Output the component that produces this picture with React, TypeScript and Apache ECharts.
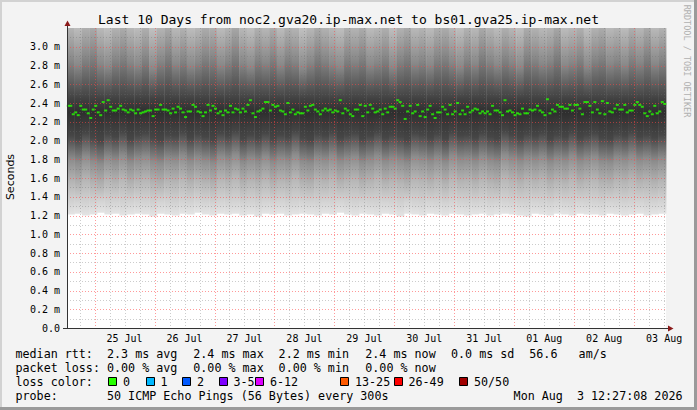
import React, { useEffect, useRef } from "react";
import * as echarts from "echarts";

// time axis in hours after 24 Jul 00:00
const X_START = 12.95;
const X_END = 252.75;
const Y_MAX = 3.2;

const titleText = "Last 10 Days from noc2.gva20.ip-max.net to bs01.gva25.ip-max.net";
const dayLabels = ["25 Jul", "26 Jul", "27 Jul", "28 Jul", "29 Jul", "30 Jul", "31 Jul", "01 Aug", "02 Aug", "03 Aug"];
const dayLabelHours = [36, 60, 84, 108, 132, 156, 180, 204, 228, 252];
const midnightHours = [24, 48, 72, 96, 120, 144, 168, 192, 216, 240];
const sixHourHours = [18, 30, 36, 42, 54, 60, 66, 78, 84, 90, 102, 108, 114, 126, 132, 138, 150, 156, 162, 174, 180, 186, 198, 204, 210, 222, 228, 234, 246, 252];
const yMajor = [0.2, 0.4, 0.6, 0.8, 1.0, 1.2, 1.4, 1.6, 1.8, 2.0, 2.2, 2.4, 2.6, 2.8, 3.0];
const yMinor = [0.1, 0.3, 0.5, 0.7, 0.9, 1.1, 1.3, 1.5, 1.7, 1.9, 2.1, 2.3, 2.5, 2.7, 2.9, 3.1];

// median rtt (ms), one per hour
const medianRtt = [
  2.37, 2.37, 2.28, 2.30, 2.27, 2.37, 2.33, 2.33, 2.29, 2.24, 2.33, 2.37, 2.30, 2.27, 2.41, 2.32, 2.43, 2.36, 2.32, 2.32,
  2.34, 2.37, 2.33, 2.32, 2.30, 2.33, 2.32, 2.29, 2.33, 2.29, 2.30, 2.31, 2.32, 2.32, 2.26, 2.33, 2.33, 2.38, 2.33, 2.33,
  2.32, 2.29, 2.34, 2.30, 2.36, 2.34, 2.30, 2.25, 2.31, 2.31, 2.38, 2.36, 2.31, 2.30, 2.26, 2.30, 2.38, 2.32, 2.37, 2.34,
  2.29, 2.31, 2.27, 2.32, 2.30, 2.37, 2.30, 2.34, 2.33, 2.30, 2.34, 2.31, 2.38, 2.43, 2.29, 2.25, 2.31, 2.32, 2.34, 2.41,
  2.41, 2.32, 2.38, 2.36, 2.37, 2.32, 2.31, 2.28, 2.40, 2.30, 2.33, 2.28, 2.30, 2.29, 2.29, 2.36, 2.32, 2.37, 2.38, 2.33,
  2.31, 2.28, 2.32, 2.34, 2.32, 2.33, 2.30, 2.32, 2.31, 2.43, 2.29, 2.34, 2.32, 2.28, 2.26, 2.33, 2.33, 2.38, 2.26, 2.37,
  2.30, 2.38, 2.34, 2.30, 2.31, 2.33, 2.28, 2.34, 2.30, 2.36, 2.36, 2.34, 2.43, 2.41, 2.37, 2.23, 2.31, 2.37, 2.29, 2.31,
  2.38, 2.26, 2.31, 2.25, 2.33, 2.37, 2.28, 2.24, 2.30, 2.30, 2.36, 2.33, 2.28, 2.38, 2.28, 2.31, 2.40, 2.28, 2.32, 2.28,
  2.36, 2.30, 2.32, 2.34, 2.33, 2.29, 2.31, 2.29, 2.31, 2.28, 2.37, 2.32, 2.32, 2.30, 2.27, 2.43, 2.31, 2.32, 2.30, 2.27,
  2.29, 2.28, 2.34, 2.29, 2.29, 2.33, 2.32, 2.33, 2.37, 2.32, 2.30, 2.27, 2.44, 2.29, 2.33, 2.31, 2.38, 2.36, 2.36, 2.34,
  2.34, 2.38, 2.32, 2.38, 2.38, 2.34, 2.28, 2.41, 2.41, 2.37, 2.30, 2.41, 2.33, 2.29, 2.42, 2.28, 2.40, 2.31, 2.30, 2.34,
  2.38, 2.33, 2.33, 2.38, 2.30, 2.32, 2.32, 2.38, 2.41, 2.38, 2.36, 2.29, 2.26, 2.31, 2.28, 2.37, 2.29, 2.31, 2.41, 2.39,
];

// smoke per 3-hour column: lowest ping, start of dark core, upper spread level (ms)
const smokeBottom = [
  1.21, 1.22, 1.20, 1.21, 1.23, 1.21, 1.22, 1.20, 1.21, 1.22, 1.21, 1.19, 1.22, 1.21, 1.20, 1.22, 1.21, 1.23, 1.21, 1.20,
  1.22, 1.21, 1.22, 1.20, 1.21, 1.19, 1.22, 1.21, 1.22, 1.20, 1.21, 1.22, 1.21, 1.20, 1.22, 1.21, 1.23, 1.21, 1.20, 1.22,
  1.21, 1.20, 1.22, 1.21, 1.19, 1.22, 1.21, 1.20, 1.22, 1.21, 1.20, 1.22, 1.21, 1.20, 1.21, 1.22, 1.20, 1.21, 1.22, 1.21,
  1.20, 1.19, 1.22, 1.21, 1.20, 1.22, 1.21, 1.20, 1.22, 1.21, 1.21, 1.20, 1.22, 1.21, 1.20, 1.21, 1.22, 1.20, 1.21, 1.22,
];
const smokeLower = [
  2.05, 2.02, 2.08, 2.03, 2.00, 2.07, 2.04, 2.09, 2.02, 2.06, 2.08, 2.03, 2.01, 2.06, 2.05, 2.09, 2.03, 2.07, 2.04, 2.01,
  2.08, 2.05, 2.10, 2.02, 2.06, 2.03, 2.08, 2.02, 2.06, 2.04, 2.10, 2.03, 2.01, 2.07, 2.05, 2.09, 2.03, 2.06, 2.08, 2.02,
  2.05, 2.09, 2.03, 2.06, 2.04, 2.01, 2.08, 2.06, 2.03, 2.07, 2.02, 2.09, 2.05, 2.06, 2.03, 2.08, 2.04, 2.02, 2.10, 2.06,
  2.03, 2.07, 2.05, 2.08, 2.02, 2.06, 2.04, 2.09, 2.03, 2.06, 2.08, 2.03, 2.02, 2.07, 2.05, 2.09, 2.04, 2.06, 2.03, 2.06,
];
const smokeUpper = [
  2.86, 2.80, 2.90, 2.94, 2.82, 2.78, 2.88, 2.92, 2.84, 2.80, 2.90, 2.76, 2.86, 2.95, 2.82, 2.88, 2.79, 2.84, 2.92, 2.90,
  2.80, 2.86, 2.96, 2.83, 2.78, 2.89, 2.84, 2.92, 2.80, 2.90, 2.86, 2.76, 2.84, 2.94, 2.88, 2.82, 2.78, 2.90, 2.86, 2.92,
  2.80, 2.84, 2.90, 2.78, 2.88, 2.94, 2.82, 2.86, 2.80, 2.90, 2.92, 2.84, 2.78, 2.88, 2.82, 2.94, 2.86, 2.80, 2.90, 2.84,
  2.78, 2.92, 2.88, 2.82, 2.86, 2.96, 2.80, 2.84, 2.90, 2.78, 2.88, 2.92, 2.82, 2.86, 2.80, 2.90, 2.84, 2.94, 2.82, 2.88,
];

const rttStats = ["2.3 ms avg", "2.4 ms max", "2.2 ms min", "2.4 ms now", "0.0 ms sd", "56.6", "am/s"];
const lossStats = ["0.00 % avg", "0.00 % max", "0.00 % min", "0.00 % now"];
const lossLabels = ["0", "1", "2", "3-5", "6-12", "13-25", "26-49", "50/50"];
const lossColors = ["#26ff00", "#00b8ff", "#0059ff", "#7e00ff", "#dd00ff", "#ff5a00", "#ff0000", "#a10000"];
const probeText = "50 ICMP Echo Pings (56 Bytes) every 300s";
const dateText = "Mon Aug\u00a0\u00a03 12:27:08 2026";

const MONO = '"DejaVu Sans Mono", monospace';
const MAJOR = "rgba(255,70,70,0.55)";
const MINOR = "rgba(110,110,110,0.35)";

function smokeStops(b: number, l: number, u: number) {
  const lv: [number, number][] = [
    [u + 0.6, 214], [u, 136], [2.45, 66], [2.3, 46], [l, 70], [l - 0.25, 140], [l - 0.5, 182], [b + 0.12, 212], [b, 228],
  ];
  const out: [number, number][] = [];
  for (let i = 0; i < lv.length; i++) {
    const [v, g] = lv[i];
    if (v > Y_MAX) {
      const nx = lv[i + 1];
      if (nx && nx[0] < Y_MAX) {
        const t = (v - Y_MAX) / (v - nx[0]);
        out.push([Y_MAX, g + (nx[1] - g) * t]);
      }
      continue;
    }
    out.push([v, g]);
  }
  return out;
}

export default function App() {
  const ref = useRef<HTMLDivElement>(null);
  useEffect(() => {
    document.body.style.margin = "0";
    if (!ref.current) return;
    const chart = echarts.init(ref.current, undefined, { renderer: "svg" });
    const span = X_END - X_START;
    const mStep = span / medianRtt.length;
    const nSmoke = Math.min(smokeBottom.length, smokeLower.length, smokeUpper.length);
    const sStep = span / nSmoke;

    const smokeData = [];
    for (let i = 0; i < nSmoke; i++) smokeData.push([X_START + i * sStep, smokeBottom[i], smokeLower[i], smokeUpper[i]]);
    const medData = medianRtt.map((v, i) => [X_START + (i + 0.5) * mStep, v]);
    const vGrid = midnightHours.map((h) => [h, 0, 1]).concat(sixHourHours.map((h) => [h, 0, 0]));
    const hGrid = yMajor.map((v) => [X_START, v, 1]).concat(yMinor.map((v) => [X_START, v, 0]));

    const graphics: any[] = [];
    graphics.push({ type: "rect", shape: { x: 0, y: 0, width: 697, height: 2 }, style: { fill: "#d2d2d2" }, silent: true });
    graphics.push({ type: "rect", shape: { x: 0, y: 0, width: 2, height: 410 }, style: { fill: "#d2d2d2" }, silent: true });
    graphics.push({ type: "rect", shape: { x: 0, y: 407, width: 697, height: 3 }, style: { fill: "#9a9a9a" }, silent: true });
    graphics.push({ type: "rect", shape: { x: 694, y: 0, width: 3, height: 410 }, style: { fill: "#9a9a9a" }, silent: true });
    graphics.push({ type: "text", x: 348.5, y: 19.5, style: { text: titleText, font: `13px ${MONO}`, fill: "#000", align: "center", verticalAlign: "middle" } });
    graphics.push({ type: "text", x: 10.5, y: 177, rotation: Math.PI / 2, style: { text: "Seconds", font: '11px "DejaVu Sans", sans-serif', fill: "#000", align: "center", verticalAlign: "middle" } });
    graphics.push({ type: "text", x: 687, y: 61, rotation: -Math.PI / 2, style: { text: "RRDTOOL / TOBI OETIKER", font: `8.5px ${MONO}`, fill: "#b0b0b0", align: "center", verticalAlign: "middle" } });
    graphics.push({ type: "line", shape: { x1: 67.5, y1: 24, x2: 67.5, y2: 28 }, style: { stroke: "#333", lineWidth: 1 } });
    graphics.push({ type: "line", shape: { x1: 63, y1: 328.5, x2: 67, y2: 328.5 }, style: { stroke: "#333", lineWidth: 1 } });
    graphics.push({ type: "line", shape: { x1: 666, y1: 328.5, x2: 669, y2: 328.5 }, style: { stroke: "#333", lineWidth: 1 } });
    graphics.push({ type: "polygon", shape: { points: [[64.5, 26], [70.5, 26], [67.5, 20.5]] }, style: { fill: "#8b1a1a" } });
    graphics.push({ type: "polygon", shape: { points: [[668, 325.5], [668, 331.5], [673.5, 328.5]] }, style: { fill: "#8b1a1a" } });

    const font = `11.7px ${MONO}`;
    const rowY = [353.5, 367.8, 382, 396.3];
    const colX = [107, 193.3, 278.6, 365.3, 451, 529.3, 578.6];
    const txt = (text: string, x: number, y: number, align = "left") =>
      graphics.push({ type: "text", x, y, style: { text, font, fill: "#000", align, verticalAlign: "middle" } });
    txt("median rtt:", 15.5, rowY[0]);
    rttStats.forEach((s, i) => txt(s, colX[i], rowY[0]));
    txt("packet loss:", 15.5, rowY[1]);
    lossStats.forEach((s, i) => txt(s, colX[i], rowY[1]));
    txt("loss color:", 15.5, rowY[2]);
    const boxX = [108, 145.5, 182, 218.5, 255, 340, 393.5, 459];
    lossLabels.forEach((s, i) => {
      graphics.push({ type: "rect", shape: { x: Math.round(boxX[i]) + 0.5, y: 377.5, width: 8, height: 8 }, style: { fill: lossColors[i], stroke: "#000", lineWidth: 1 } });
      txt(s, boxX[i] + 15, rowY[2]);
    });
    txt("probe:", 15.5, rowY[3]);
    txt(probeText, colX[0], rowY[3]);
    txt(dateText, 682.5, rowY[3], "right");

    const option: any = {
      animation: false,
      backgroundColor: "#f3f3f3",
      grid: { left: 67, top: 28, width: 599, height: 300, show: true, backgroundColor: "#ffffff", borderWidth: 0 },
      xAxis: {
        type: "value",
        min: X_START,
        max: X_END,
        z: 5,
        axisLine: { show: true, lineStyle: { color: "#333", width: 1 } },
        axisTick: { show: false },
        splitLine: { show: false },
        axisLabel: {
          customValues: dayLabelHours,
          margin: 5,
          fontFamily: "DejaVu Sans Mono",
          fontSize: 10,
          color: "#000",
          formatter: (v: number) => {
            const j = dayLabelHours.findIndex((h) => Math.abs(h - v) < 0.01);
            return j >= 0 ? dayLabels[j] : "";
          },
        },
      },
      yAxis: {
        type: "value",
        min: 0,
        max: Y_MAX,
        interval: 0.2,
        z: 5,
        axisLine: { show: true, lineStyle: { color: "#333", width: 1 } },
        axisTick: { show: false },
        splitLine: { show: false },
        axisLabel: {
          margin: 7,
          fontFamily: "DejaVu Sans Mono",
          fontSize: 10,
          color: "#000",
          formatter: (v: number) => (v > Y_MAX - 0.05 ? "" : v < 0.01 ? "0.0" : v.toFixed(1) + " m"),
        },
      },
      graphic: graphics,
      series: [
        {
          type: "custom",
          z: 1,
          silent: true,
          data: smokeData,
          renderItem: (params: any, api: any) => {
            const x0 = api.value(0);
            const b = api.value(1);
            const l = api.value(2);
            const u = api.value(3);
            const px = api.coord([x0, 0])[0];
            const w = api.size([sStep, 0])[0];
            const yTop = api.coord([x0, Y_MAX])[1];
            const yBot = api.coord([x0, b])[1];
            const h = yBot - yTop;
            const stops = smokeStops(b, l, u).map(([v, g]) => {
              const off = Math.min(1, Math.max(0, (api.coord([x0, v])[1] - yTop) / h));
              const c = Math.round(g);
              return { offset: off, color: `rgb(${c},${c},${c})` };
            });
            return {
              type: "rect",
              shape: { x: px, y: yTop, width: w + 0.4, height: h },
              style: { fill: new echarts.graphic.LinearGradient(0, 0, 0, 1, stops) },
            };
          },
        },
        {
          type: "custom",
          z: 2,
          silent: true,
          data: vGrid,
          renderItem: (params: any, api: any) => {
            const cs = params.coordSys;
            const x = Math.round(api.coord([api.value(0), 0])[0]) + 0.5;
            return {
              type: "line",
              shape: { x1: x, y1: cs.y, x2: x, y2: cs.y + cs.height },
              style: { stroke: api.value(2) ? MAJOR : MINOR, lineWidth: 1, lineDash: [1, 2] },
            };
          },
        },
        {
          type: "custom",
          z: 2,
          silent: true,
          data: hGrid,
          renderItem: (params: any, api: any) => {
            const cs = params.coordSys;
            const y = Math.round(api.coord([X_START, api.value(1)])[1]) + 0.5;
            return {
              type: "line",
              shape: { x1: cs.x, y1: y, x2: cs.x + cs.width, y2: y },
              style: { stroke: api.value(2) ? MAJOR : MINOR, lineWidth: 1, lineDash: [1, 2] },
            };
          },
        },
        {
          type: "scatter",
          z: 3,
          silent: true,
          symbol: "rect",
          symbolSize: [3, 2],
          itemStyle: { color: "#26ff00" },
          data: medData,
        },
      ],
    };
    chart.setOption(option);
    return () => chart.dispose();
  }, []);
  return <div ref={ref} style={{ width: 697, height: 410 }} />;
}
